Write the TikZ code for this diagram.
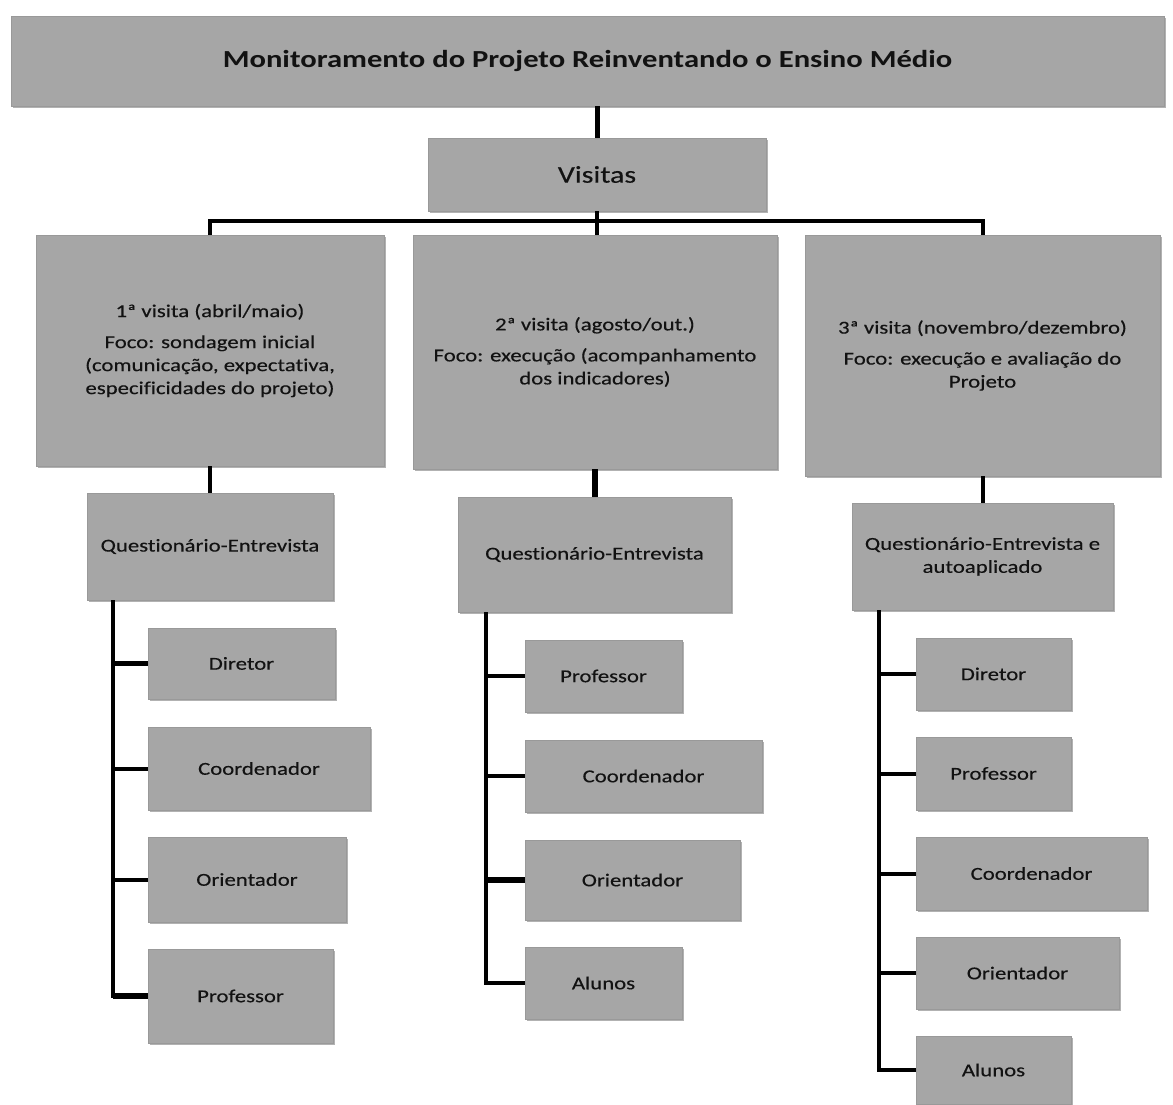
\documentclass[tikz,border=0pt]{standalone}
\usepackage{fontspec}
\setmainfont{Carlito}[FakeStretch=1.25, Ligatures=NoCommon, UprightFeatures={FakeBold=0.35}]
\usetikzlibrary{shadows}
\definecolor{boxgray}{HTML}{A6A6A6}
\definecolor{boxedge}{HTML}{999999}
\definecolor{txt}{HTML}{121212}
\newcommand{\nolig}{\kern0pt\relax}
\begin{document}
\begin{tikzpicture}[x=1pt,y=-1pt,
  box/.style={fill=boxgray, draw=boxedge, line width=0.6pt, inner sep=0pt, align=center,
    text=txt, font=\fontsize{18.2}{23}\selectfont,
    drop shadow={shadow xshift=1.5pt, shadow yshift=-1.8pt, opacity=0.3, fill=black}},
  conn/.style={line width=4pt, black, line join=miter},
  thick conn/.style={conn, line width=5.5pt}]
\useasboundingbox (0,0) rectangle (1173,1104);

% top levels
\node[box, font=\bfseries\fontsize{24.5}{28}\selectfont, minimum width=1153pt, minimum height=90pt] (title) at (587.5,61) {Monitoramento do Projeto Reinventando o Ensino Médio};
\node[box, font=\fontsize{24}{28}\selectfont, minimum width=338pt, minimum height=73pt] (vis) at (597,174.5) {Visitas};

\node[box, minimum width=348pt, minimum height=231pt] (b1) at (210,350.5) {1ª visita (abril/maio)\\[8pt] Foco: sondagem inicial\\ (comunicação, expectativa,\\ especificidades do projeto)};
\node[box, minimum width=364pt, minimum height=234pt] (b2) at (595,352) {2ª visita (agosto/out.)\\[8pt] Foco: execução (acompanhamento\\ dos indicadores)};
\node[box, minimum width=355pt, minimum height=241pt] (b3) at (982.5,355.5) {3ª visita (novembro/dezembro)\\[8pt] Foco: execução e avaliação do\\ Projeto};

\node[box, minimum width=246pt, minimum height=107pt] (q1) at (210,546.5) {Quest\nolig ionário-Entrevista};
\node[box, minimum width=273pt, minimum height=115pt] (q2) at (594.5,554.5) {Quest\nolig ionário-Entrevista};
\node[box, minimum width=261pt, minimum height=107pt] (q3) at (982.5,556.5) {Quest\nolig ionário-Entrevista e\\ autoaplicado};

% column 1 leaves
\node[box, minimum width=187pt, minimum height=71pt] (d1) at (241.5,663.5) {Diretor};
\node[box, minimum width=222pt, minimum height=83pt] (c1) at (259,768.5) {Coordenador};
\node[box, minimum width=198pt, minimum height=85pt] (o1) at (247,879.5) {Orientador};
\node[box, minimum width=185pt, minimum height=94pt] (p1) at (240.5,996) {Professor};

% column 2 leaves
\node[box, minimum width=157pt, minimum height=72pt] (p2) at (603.5,676) {Professor};
\node[box, minimum width=237pt, minimum height=72pt] (c2) at (643.5,776) {Coordenador};
\node[box, minimum width=215pt, minimum height=80pt] (o2) at (632.5,880) {Orientador};
\node[box, minimum width=157pt, minimum height=72pt] (a2) at (603.5,983) {Alunos};

% column 3 leaves
\node[box, minimum width=155pt, minimum height=72pt] (d3) at (993.5,674) {Diretor};
\node[box, minimum width=155pt, minimum height=73pt] (p3) at (993.5,773.5) {Professor};
\node[box, minimum width=231pt, minimum height=73pt] (c3) at (1031.5,873.5) {Coordenador};
\node[box, minimum width=203pt, minimum height=72pt] (o3) at (1017.5,973) {Orientador};
\node[box, minimum width=155pt, minimum height=68pt] (a3) at (993.5,1070) {Alunos};

% connectors, top
\draw[conn, line width=5pt] (title.south -| vis.south) -- (vis.north);
\draw[conn] (vis.south) -- (vis.south |- b2.north);
\draw[conn] (b1.north) |- ([yshift=-10pt]vis.south) -| (b3.north);
\draw[conn] (b1.south) -- (q1.north);
\draw[conn, line width=6.5pt] (b2.south) -- (b2.south |- q2.north);
\draw[conn] (b3.south) -- (q3.north);

% column 1 spine
\coordinate (s1) at ([xshift=26pt]q1.south west);
\draw[conn] (s1) |- (p1.west);
\draw[thick conn] (d1.west) -- (d1.west -| s1);
\draw[conn] (c1.west) -- (c1.west -| s1);
\draw[conn] (o1.west) -- (o1.west -| s1);
\draw[thick conn] (p1.west) -- (p1.west -| s1);

% column 2 spine
\coordinate (s2) at ([xshift=28pt]q2.south west);
\draw[conn] (s2) |- (a2.west);
\draw[conn] (p2.west) -- (p2.west -| s2);
\draw[conn] (c2.west) -- (c2.west -| s2);
\draw[thick conn] (o2.west) -- (o2.west -| s2);

% column 3 spine
\coordinate (s3) at ([xshift=27pt]q3.south west);
\draw[conn] (s3) |- (a3.west);
\draw[conn] (d3.west) -- (d3.west -| s3);
\draw[conn] (p3.west) -- (p3.west -| s3);
\draw[conn] (c3.west) -- (c3.west -| s3);
\draw[conn] (o3.west) -- (o3.west -| s3);
\end{tikzpicture}
\end{document}
